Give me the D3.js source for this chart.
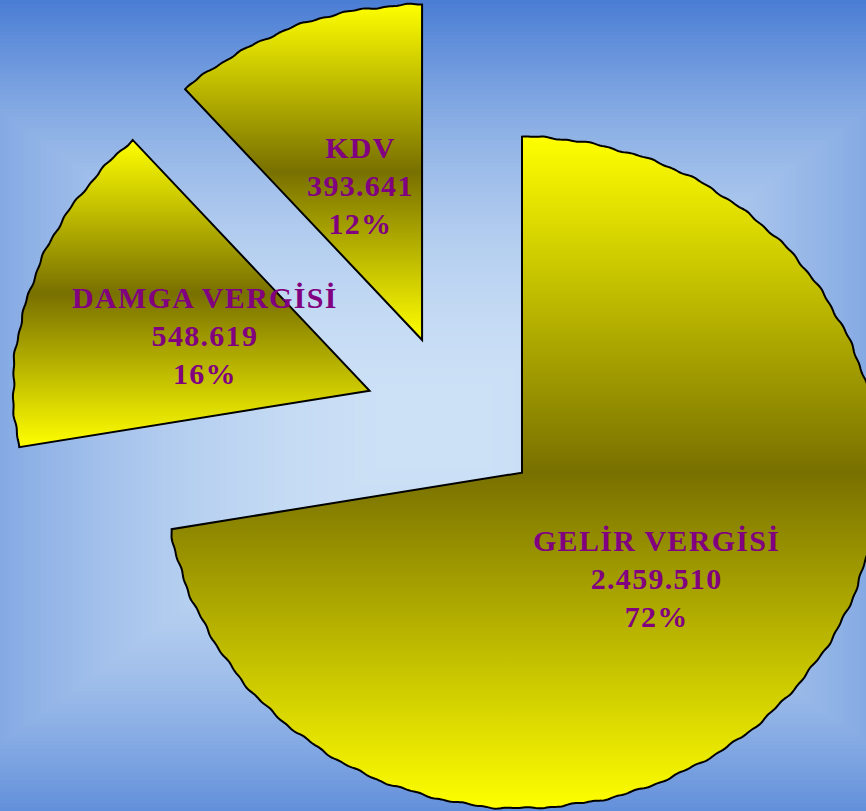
<!DOCTYPE html>
<html>
<head>
<meta charset="utf-8">
<script src="https://cdn.jsdelivr.net/npm/d3@7/dist/d3.min.js"></script>
<style>
  html, body { margin: 0; padding: 0; overflow: hidden; }
  svg { display: block; }
</style>
</head>
<body>
<svg id="chart" width="866" height="811"></svg>
<script>
// Tax revenue shares
const categories = ["GELİR VERGİSİ", "DAMGA VERGİSİ", "KDV"];
const values = [2459510, 548619, 393641];

const W = 866, H = 811;
const svg = d3.select("#chart");
const defs = svg.append("defs");

// Rectangular "from centre" background fill, built from nested bands
const bg = { cx: 434, cy: 427, a: 585, b: 427, inner: "#cde1f6", outer: "#4a7dd4", steps: 110 };
const bgColor = d3.interpolateRgb(bg.inner, bg.outer);
svg.append("rect").attr("width", W).attr("height", H).attr("fill", bg.outer);
svg.append("g").selectAll("rect")
  .data(d3.range(bg.steps, 0, -1).map(i => i / bg.steps))
  .join("rect")
  .attr("x", t => bg.cx - bg.a * t)
  .attr("y", t => bg.cy - bg.b * t)
  .attr("width", t => 2 * bg.a * t)
  .attr("height", t => 2 * bg.b * t)
  .attr("fill", t => bgColor(t * t));

// Slice fill: yellow → olive → yellow, top to bottom
const grad = defs.append("linearGradient")
  .attr("id", "sliceFill")
  .attr("x1", 0).attr("y1", 0).attr("x2", 0).attr("y2", 1);
grad.append("stop").attr("offset", 0).attr("stop-color", "#ffff00");
grad.append("stop").attr("offset", 0.5).attr("stop-color", "#787000");
grad.append("stop").attr("offset", 1).attr("stop-color", "#ffff00");

// Pie geometry (slightly widened horizontally)
const R = 335.5, stretchX = 1.062, explode = 84, labelR = 165;
const center = [453.8, 418.5];

const total = d3.sum(values);
const pie = d3.pie().sort(null).value(d => d)
  .startAngle(0).endAngle(2 * Math.PI);
const arcs = pie(values);

// Hand-cut look: the rim of each slice ripples gently
const rim = a => {
  const s = a * R;
  return R + 0.7 * Math.sin(s / 8.5) + 0.45 * Math.sin(s / 3.3 + 1.3) + 0.3 * Math.sin(s / 21 + 0.4);
};
const outline = d3.lineRadial()
  .angle(p => p[0])
  .radius(p => p[1]);
const slicePath = d => {
  const n = Math.max(8, Math.ceil((d.endAngle - d.startAngle) * R / 2));
  const pts = [[d.startAngle, 0]];
  for (let k = 0; k <= n; k++) {
    const a = d.startAngle + (d.endAngle - d.startAngle) * k / n;
    pts.push([a, rim(a)]);
  }
  pts.push([d.endAngle, 0]);
  return outline(pts) + "Z";
};

const trTR = d3.formatLocale({ decimal: ",", thousands: ".", grouping: [3], currency: ["", ""] });
const fmt = trTR.format(",d");

const g = svg.append("g")
  .attr("transform", `translate(${center[0]},${center[1]}) scale(${stretchX},1)`);

const slice = g.selectAll("g.slice")
  .data(arcs)
  .join("g")
  .attr("class", "slice")
  .attr("transform", d => {
    const m = (d.startAngle + d.endAngle) / 2;
    return `translate(${Math.sin(m) * explode},${-Math.cos(m) * explode})`;
  });

slice.append("path")
  .attr("d", slicePath)
  .attr("fill", "url(#sliceFill)")
  .attr("stroke", "#000")
  .attr("stroke-width", 2)
  .attr("stroke-linejoin", "miter")
  .attr("vector-effect", "non-scaling-stroke");

// Labels (drawn outside the stretched group so glyphs keep their shape)
const labelArc = d3.arc().innerRadius(labelR).outerRadius(labelR);
const lineGap = 38, fontSize = 30, spacing = 1.3;

const labels = svg.append("g")
  .attr("font-family", "'Liberation Serif', 'Times New Roman', serif")
  .attr("font-weight", "bold")
  .attr("font-size", fontSize)
  .attr("letter-spacing", spacing)
  .attr("fill", "#800080")
  .attr("text-anchor", "middle");

arcs.forEach((d, i) => {
  const m = (d.startAngle + d.endAngle) / 2;
  const c = labelArc.centroid(d);
  const x = center[0] + (c[0] + Math.sin(m) * explode) * stretchX + spacing / 2;
  const y = center[1] + c[1] - Math.cos(m) * explode + 10;
  const lines = [categories[i], fmt(values[i]), Math.round(values[i] / total * 100) + "%"];
  labels.append("text")
    .selectAll("tspan")
    .data(lines)
    .join("tspan")
    .attr("x", x)
    .attr("y", (s, k) => y + (k - 1) * lineGap)
    .text(s => s);
});
</script>
</body>
</html>
